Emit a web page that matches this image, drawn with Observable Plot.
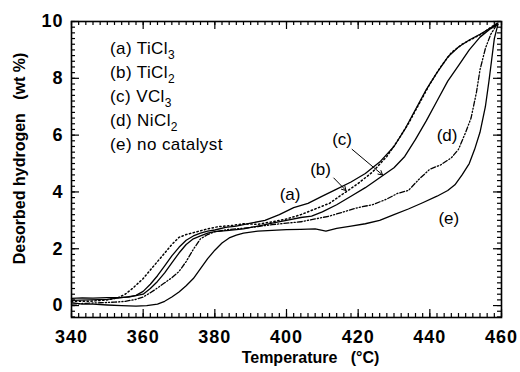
<!DOCTYPE html>
<html><head><meta charset="utf-8">
<script src="https://cdn.jsdelivr.net/npm/d3@7"></script>
<script src="https://cdn.jsdelivr.net/npm/@observablehq/plot@0.6"></script>
<style>body{margin:0;background:#fff} svg{display:block}</style>
</head><body><div id="chart"></div>
<script>
// ---- data ----
const tempA = [340,343,346,350,353,356,358,360,362,364,366,368,370,372,374,376,378,380,383,386,390,394,398,402,406,410,414,418,422,426,430,433,436,439,442,445,448,451,454,456,458,459];
const valA  = [0.25,0.27,0.26,0.28,0.28,0.3,0.36,0.5,0.75,1.05,1.4,1.75,2.05,2.3,2.45,2.55,2.62,2.66,2.75,2.8,2.9,3.0,3.2,3.45,3.6,3.85,4.1,4.35,4.65,5.05,5.6,6.2,6.9,7.6,8.2,8.75,9.1,9.35,9.55,9.7,9.85,9.95];

const tempB = [340,345,350,353,355,357,360,362,364,366,368,370,372,375,378,381,385,388,392,396,400,404,408,412,416,420,424,428,431,434,437,440,443,446,449,452,455,457,459];
const valB  = [0.15,0.15,0.2,0.28,0.4,0.6,0.95,1.25,1.55,1.85,2.15,2.4,2.5,2.6,2.7,2.78,2.82,2.88,2.86,2.95,3.05,3.2,3.4,3.6,3.95,4.3,4.7,5.25,5.8,6.4,7.1,7.8,8.4,8.9,9.2,9.4,9.6,9.8,9.95];

const tempC = [340,345,350,355,358,360,362,364,366,368,370,372,374,376,378,380,384,388,392,396,400,404,407,410,414,418,422,426,430,433,436,439,442,445,448,451,454,457,459];
const valC  = [0.18,0.2,0.22,0.3,0.35,0.4,0.6,0.85,1.15,1.5,1.85,2.15,2.35,2.45,2.55,2.6,2.65,2.7,2.8,2.9,3.0,3.1,3.15,3.3,3.55,3.85,4.15,4.5,4.85,5.25,5.85,6.5,7.2,7.9,8.45,9.0,9.45,9.75,9.9];

const tempD = [340,344,348,352,355,358,360,362,364,366,368,370,372,374,376,378,380,384,388,392,396,400,404,408,412,416,420,424,428,431,434,437,440,443,446,448,450,451.5,453,454,455.5,457,458.5];
const valD  = [0.05,0.08,0.1,0.12,0.15,0.22,0.3,0.45,0.62,0.8,0.98,1.2,1.55,1.98,2.35,2.5,2.6,2.68,2.72,2.78,2.85,2.9,2.95,3.05,3.15,3.3,3.45,3.55,3.75,3.95,4.05,4.45,4.8,4.95,5.2,5.5,6.1,6.6,7.5,8.3,9.05,9.55,9.85];

const tempE = [340,343,346,350,354,358,361,364,366,368,370,372,374,376,378,380,382,384,386,388,392,396,400,404,408,411,414,418,422,426,430,434,438,442,445,447,449,451,452.5,454,455.5,456.5,457.2,458,459];
const valE  = [0.1,0.05,0.05,0.02,0.0,-0.02,0.0,0.05,0.15,0.3,0.48,0.7,0.95,1.3,1.65,1.95,2.2,2.38,2.48,2.55,2.62,2.65,2.67,2.68,2.7,2.62,2.72,2.8,2.88,3.0,3.2,3.4,3.62,3.85,4.05,4.25,4.6,5.0,5.5,6.1,7.0,7.9,8.6,9.4,9.9];

const legendLabels = ["(a) TiCl", "(b) TiCl", "(c) VCl", "(d) NiCl", "(e) no catalyst"];
const legendSubs   = ["3", "2", "3", "2", ""];

const annotText = ["(a)", "(b)", "(c)", "(d)", "(e)"];
const annotX    = [401, 409.5, 415.5, 444.8, 445.3];
const annotY    = [3.9, 4.8, 5.86, 5.97, 3.05];

const arrowX1 = [413.2, 418.3];
const arrowY1 = [4.49, 5.5];
const arrowX2 = [416.6, 426.8];
const arrowY2 = [4.05, 4.6];

const xTicks = [340, 360, 380, 400, 420, 440, 460];
const yTicks = [0, 2, 4, 6, 8, 10];
const xTitle = "Temperature\u00a0\u00a0\u00a0(°C)";
const yTitle = "Desorbed hydrogen\u00a0\u00a0\u00a0(wt %)";

// ---- layout ----
const W = 520, H = 372, mL = 71, mR = 19, mT = 21, mB = 55;
const pW = W - mL - mR, pH = H - mT - mB;
const FONT = "'Liberation Sans', Arial, Helvetica, sans-serif";

const toRows = (t, v) => t.map((x, i) => ({t: x, v: v[i]}));
const minorX = d3.range(340, 461, 2);
const minorY = d3.range(-2, 51).map(i => i / 5);
const annots = annotText.map((s, i) => ({s, x: annotX[i], y: annotY[i]}));
const arrows = arrowX1.map((x, i) => ({x1: x, y1: arrowY1[i], x2: arrowX2[i], y2: arrowY2[i]}));

const lineOpts = {x: "t", y: "v", stroke: "black", strokeWidth: 1.3, curve: "linear"};

const plot = Plot.plot({
  width: W, height: H,
  marginLeft: mL, marginRight: mR, marginTop: mT, marginBottom: mB,
  style: {fontFamily: FONT, background: "white", color: "black"},
  x: {domain: [340, 460]},
  y: {domain: [-0.42, 10]},
  marks: [
    Plot.line(toRows(tempE, valE), lineOpts),
    Plot.line(toRows(tempD, valD), {...lineOpts, strokeDasharray: "5,2,1.2,2,1.2,2"}),
    Plot.line(toRows(tempC, valC), lineOpts),
    Plot.line(toRows(tempB, valB), {...lineOpts, strokeWidth: 1.5, strokeDasharray: "1.3,2.6"}),
    Plot.line(toRows(tempA, valA), lineOpts),
    // inward ticks on all four sides
    Plot.tickX(minorX, {x: d => d, insetTop: pH - 4, stroke: "black", strokeWidth: 1.2}),
    Plot.tickX(xTicks, {x: d => d, insetTop: pH - 8, stroke: "black", strokeWidth: 1.2}),
    Plot.tickX(minorX, {x: d => d, insetBottom: pH - 4, stroke: "black", strokeWidth: 1.2}),
    Plot.tickX(xTicks, {x: d => d, insetBottom: pH - 8, stroke: "black", strokeWidth: 1.2}),
    Plot.tickY(minorY, {y: d => d, insetRight: pW - 4, stroke: "black", strokeWidth: 1.2}),
    Plot.tickY(yTicks, {y: d => d, insetRight: pW - 8, stroke: "black", strokeWidth: 1.2}),
    Plot.tickY(minorY, {y: d => d, insetLeft: pW - 4, stroke: "black", strokeWidth: 1.2}),
    Plot.tickY(yTicks, {y: d => d, insetLeft: pW - 8, stroke: "black", strokeWidth: 1.2}),
    Plot.frame({stroke: "black", strokeWidth: 1.6}),
    Plot.axisX(xTicks, {tickSize: 0, tickPadding: 13, label: null, fontSize: 18, fontWeight: "bold"}),
    Plot.axisY(yTicks, {tickSize: 0, tickPadding: 8, label: null, fontSize: 18, fontWeight: "bold"}),
    Plot.text([xTitle], {text: d => d, frameAnchor: "bottom", textAnchor: "middle", dx: 24, dy: 40, lineAnchor: "middle", fontSize: 16, fontWeight: "bold"}),
    Plot.text([yTitle], {text: d => d, frameAnchor: "left", textAnchor: "middle", rotate: -90, dx: -52, dy: -11, lineAnchor: "middle", fontSize: 16, fontWeight: "bold"}),
    Plot.text(annots, {x: "x", y: "y", text: "s", fontSize: 17, fill: "black"}),
    Plot.arrow(arrows, {x1: "x1", y1: "y1", x2: "x2", y2: "y2", stroke: "black", strokeWidth: 1, headLength: 7})
  ]
});

const svg = d3.select(plot);
// slightly wider tick-label spacing, like the reference
svg.selectAll('g[aria-label="x-axis tick label"] text, g[aria-label="y-axis tick label"] text')
  .style("letter-spacing", "1px");

// legend with subscripts
const lg = svg.append("g").attr("font-family", FONT).attr("font-size", 17)
  .attr("fill", "black").attr("text-anchor", "start");
legendLabels.forEach((lab, i) => {
  const t = lg.append("text").attr("x", 110).attr("y", 54 + i * 24).attr("letter-spacing", 0.4);
  t.append("tspan").text(lab);
  if (legendSubs[i]) t.append("tspan").attr("font-size", 12).attr("dy", 5).text(legendSubs[i]);
});

document.getElementById("chart").appendChild(plot);
</script>
</body></html>
